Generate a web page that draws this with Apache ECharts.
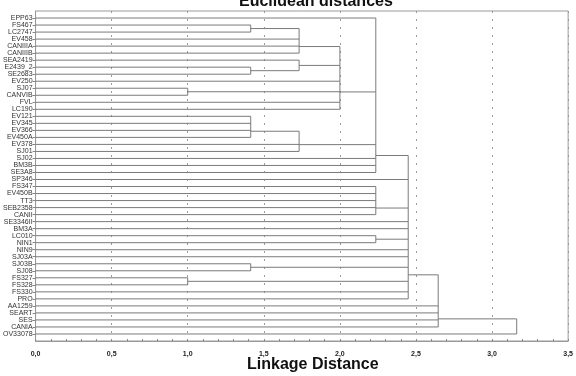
<!DOCTYPE html>
<html><head><meta charset="utf-8">
<script src="https://cdn.jsdelivr.net/npm/echarts@6/dist/echarts.min.js"></script>
<style>html,body{margin:0;padding:0;background:#fff}#c{width:576px;height:376px}</style>
</head><body><div id="c"></div>
<script>
// Leaf order (top to bottom)
const leafNames = ['EPP63','FS467','LC2747','EV458','CANIIIA','CANIIIB','SEA2419','E2439_2','SE2683','EV250',
  'SJ07','CANVIB','FVL','LC190','EV121','EV345','EV366','EV450A','EV378','SJ01',
  'SJ02','BM3B','SE3A8','SP346','FS347','EV450B','TT3','SEB2358','CANII','SE3346II',
  'BM3A','LC010','NIN1','NIN9','SJ03A','SJ03B','SJ08','FS327','FS328','FS330',
  'PRO','AA1259','SEART','SES','CANIA','OV33078'];

// Linkage distances of the joins (Euclidean, sqrt of integer counts)
const linkHeights = [1.0, 1.414, 1.732, 2.0, 2.236, 2.449, 2.646, 3.162];

// Clusters: h = linkage distance, c = members in amalgamation order
const clPair1 = {h: 1.414, c: ['FS467', 'LC2747']};
const clA = {h: 1.732, c: [clPair1, 'EV458', 'CANIIIA', 'CANIIIB']};
const clPair2 = {h: 1.414, c: ['E2439_2', 'SE2683']};
const clB = {h: 1.732, c: [clPair2, 'SEA2419']};
const clSJ = {h: 1.0, c: ['SJ07', 'CANVIB']};
const clC = {h: 2.0, c: [clA, clB, 'LC190', 'EV250', 'FVL', clSJ]};
const clD = {h: 1.414, c: ['EV121', 'EV345', 'EV366', 'EV450A']};
const clE = {h: 1.732, c: [clD, 'EV378', 'SJ01']};
const clF = {h: 2.236, c: ['EPP63', clC, clE, 'BM3B', 'SE3A8', 'SJ02']};
const clG = {h: 2.236, c: ['FS347', 'EV450B', 'TT3', 'SEB2358', 'CANII']};
const clH = {h: 2.236, c: ['LC010', 'NIN1']};
const clK = {h: 1.414, c: ['SJ03B', 'SJ08']};
const clL = {h: 1.0, c: ['FS327', 'FS328']};
const clI = {h: 2.449, c: [clF, 'SP346', clG, 'SE3346II', 'BM3A', clH, 'NIN9', 'FS330', 'PRO', 'SJ03A', clK, clL]};
const clJ = {h: 2.646, c: [clI, 'AA1259', 'SEART', 'SES', 'CANIA']};
const clRoot = {h: 3.162, c: [clJ, 'OV33078']};

// Build segments [x1, y1, x2, y2] in data units
const segments = [];
function layout(node) {
  if (typeof node === 'string') return {x: 0, y: leafNames.indexOf(node)};
  let yPos = null, yMin = Infinity, yMax = -Infinity;
  node.c.forEach(function (ch) {
    const r = layout(ch);
    segments.push([r.x, r.y, node.h, r.y]);
    yMin = Math.min(yMin, r.y); yMax = Math.max(yMax, r.y);
    yPos = (yPos === null) ? r.y : (yPos + r.y) / 2;
  });
  segments.push([node.h, yMin, node.h, yMax]);
  return {x: node.h, y: yPos};
}
layout(clRoot);

const leafIdx = leafNames.map(function (n, i) { return i; });
const FONT = 'Liberation Sans, Arial, sans-serif';
const chart = echarts.init(document.getElementById('c'), null, {renderer: 'canvas'});
chart.setOption({
  animation: false,
  backgroundColor: '#fff',
  title: [
    {text: 'Euclidean distances', left: 239, top: -6, padding: 0,
     textStyle: {fontFamily: FONT, fontSize: 16, fontWeight: 'bold', color: '#111', lineHeight: 16}},
    {text: 'Linkage Distance', left: 247, top: 357, padding: 0,
     textStyle: {fontFamily: FONT, fontSize: 16, fontWeight: 'bold', color: '#111', lineHeight: 16}}
  ],
  grid: {left: 30, right: 5, top: 11, bottom: 35, show: true, borderColor: '#999', borderWidth: 1, containLabel: false},
  xAxis: {
    type: 'value', min: 0, max: 3.5, interval: 0.5, position: 'bottom',
    axisLine: {show: true, onZero: false, lineStyle: {color: '#999'}},
    axisTick: {show: true, inside: true, length: 2, lineStyle: {color: '#888'}},
    minorTick: {show: true, splitNumber: 5, length: 2, lineStyle: {color: '#888'}},
    splitLine: {show: true, lineStyle: {color: '#9a9a9a', type: [2, 6], width: 1}},
    axisLabel: {fontFamily: FONT, fontSize: 7, fontWeight: 'bold', color: '#222', margin: 10,
      formatter: function (v) { return v.toFixed(1).replace('.', ','); }}
  },
  yAxis: {
    type: 'value', inverse: true, min: -1, max: 46, interval: 1, position: 'left',
    axisLine: {show: true, onZero: false, lineStyle: {color: '#999'}},
    axisTick: {show: true, length: 3, customValues: leafIdx, lineStyle: {color: '#888'}},
    splitLine: {show: false},
    axisLabel: {fontFamily: FONT, fontSize: 7, color: '#333', margin: 3, customValues: leafIdx,
      formatter: function (v) { return (Number.isInteger(v) && v >= 0 && v < leafNames.length) ? leafNames[v] : ''; }}
  },
  series: [{
    type: 'custom',
    data: segments,
    encode: {x: [0, 2], y: [1, 3]},
    renderItem: function (params, api) {
      const p1 = api.coord([api.value(0), api.value(1)]);
      const p2 = api.coord([api.value(2), api.value(3)]);
      return {type: 'line', shape: {x1: p1[0], y1: p1[1], x2: p2[0], y2: p2[1]},
        style: {stroke: '#7a7a7a', lineWidth: 1}};
    }
  }]
});
</script></body></html>
